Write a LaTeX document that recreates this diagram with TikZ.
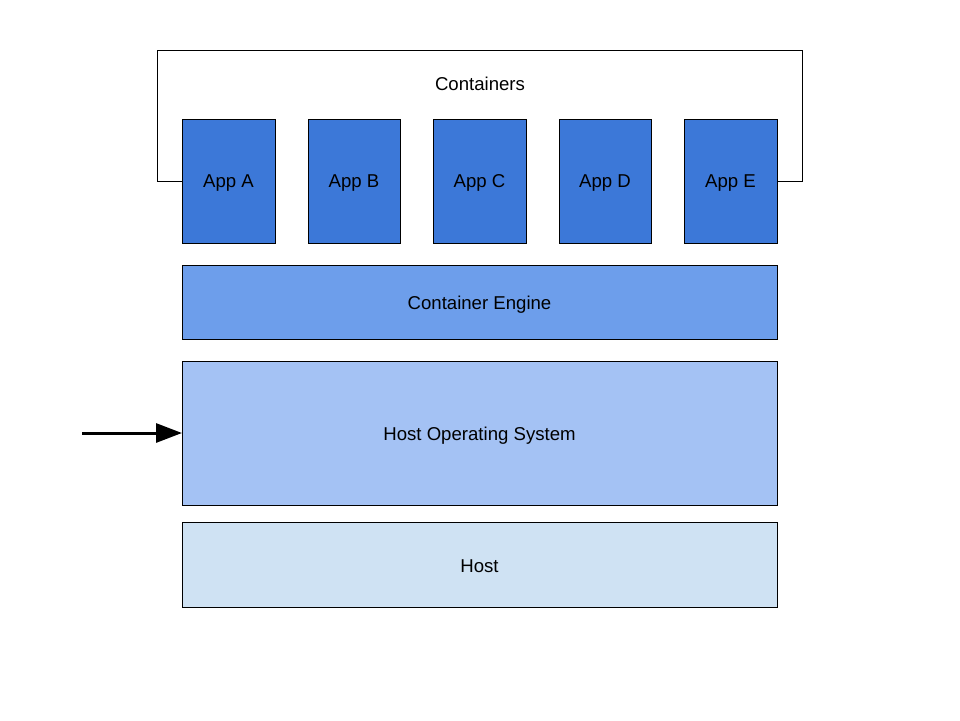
\documentclass[tikz,border=0pt]{standalone}
\usepackage{fontspec}
\setmainfont{Liberation Sans}
\usetikzlibrary{arrows.meta}
\definecolor{appblue}{HTML}{3C78D8}
\definecolor{engblue}{HTML}{6D9EEB}
\definecolor{osblue}{HTML}{A4C2F4}
\definecolor{hostblue}{HTML}{CFE2F3}
\tikzset{
  layer/.style={draw=black, line width=1pt},
  lbl/.style={inner sep=0pt, font=\fontsize{18.6}{22}\selectfont},
}
\begin{document}
\begin{tikzpicture}[x=1pt,y=-1pt]
\useasboundingbox (0,0) rectangle (960,720);
% container outline
\draw[line width=1pt] (182,181) -- (157,181) -- (157,50) -- (802,50) -- (802,181) -- (777,181);
\node[lbl] (cont) at (480,84) {Containers};
% apps
\foreach \n/\l/\r in {A/182/275, B/308/400, C/433/526, D/559/651, E/684/777}{
  \draw[layer, fill=appblue] (\l,119) rectangle (\r,243);
  \node[lbl] (app\n) at ({(\l+\r)/2},183) {App \n};
}
\draw[layer, fill=engblue] (182,265) rectangle (777,339);
\node[lbl] (eng) at (479.5,304.5) {Container Engine};
\draw[layer, fill=osblue] (182,361) rectangle (777,505);
\node[lbl] (os) at (479.5,435.5) {Host Operating System};
\coordinate (osleft) at (182,433);
\draw[layer, fill=hostblue] (182,522) rectangle (777,607);
\node[lbl] (host) at (479.5,566.5) {Host};
\coordinate (arrstart) at (82,433);
\draw[line width=3pt, -{Triangle[length=26pt,width=19pt]}] (arrstart) -- (osleft);
\end{tikzpicture}
\end{document}
